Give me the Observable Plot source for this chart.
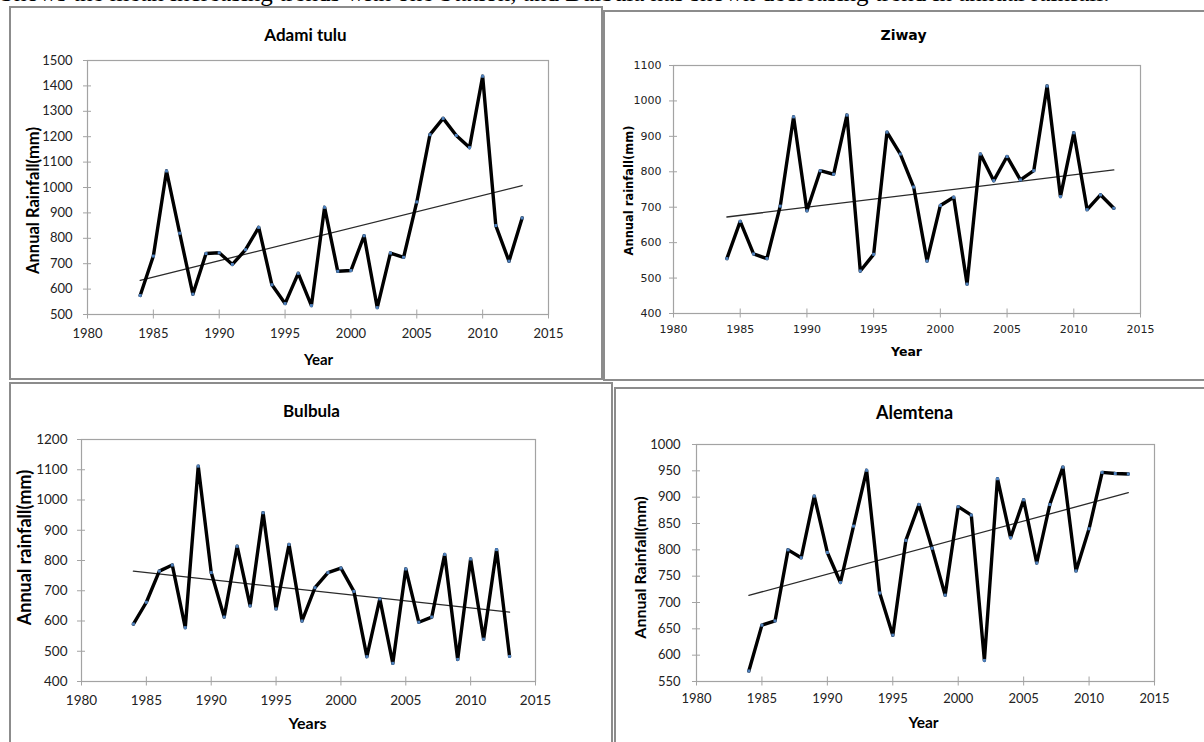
<!DOCTYPE html>
<html>
<head>
<meta charset="utf-8">
<script src="https://cdn.jsdelivr.net/npm/d3@7"></script>
<script src="https://cdn.jsdelivr.net/npm/@observablehq/plot@0.6"></script>
<style>
  html, body { margin: 0; padding: 0; background: #fff; }
  #page { position: relative; width: 1204px; height: 742px; overflow: hidden; background: #fff; }
  .chart { position: absolute; }
  .frame { position: absolute; box-sizing: border-box; border: 2px solid #8c8c8c; pointer-events: none; }
  #lead { position: absolute; left: 0; top: 0; width: 1204px; height: 8px; overflow: hidden; }
  #lead span { position: absolute; left: 0; top: -20px; font: 25px "Liberation Serif", serif; line-height: 25px; white-space: nowrap; color: #000; }
</style>
</head>
<body>
<div id="page">
  <div id="lead"><span>Shows the mean increasing trends with one Station, and Bulbula has shown decreasing trend in annual rainfall.</span></div>
</div>
<script>
// ---- data ----
const years = [1984, 1985, 1986, 1987, 1988, 1989, 1990, 1991, 1992, 1993,
               1994, 1995, 1996, 1997, 1998, 1999, 2000, 2001, 2002, 2003,
               2004, 2005, 2006, 2007, 2008, 2009, 2010, 2011, 2012, 2013];

const adamiTulu = [575, 730, 1065, 820, 580, 740, 743, 697, 755, 843,
                   617, 543, 662, 535, 922, 670, 673, 810, 527, 742,
                   725, 943, 1208, 1272, 1205, 1157, 1438, 850, 710, 880];

const ziway = [555, 660, 568, 555, 703, 955, 690, 803, 793, 960,
               520, 567, 912, 850, 757, 548, 705, 728, 483, 850,
               775, 843, 777, 803, 1042, 730, 910, 693, 735, 697];

const bulbula = [590, 662, 765, 785, 578, 1112, 760, 613, 847, 650,
                 958, 640, 853, 600, 710, 760, 775, 698, 482, 673,
                 460, 772, 596, 613, 820, 473, 805, 540, 836, 483];

const alemtena = [570, 657, 665, 800, 785, 902, 795, 738, 845, 951,
                  718, 638, 818, 886, 803, 714, 882, 866, 590, 935,
                  823, 895, 775, 886, 957, 760, 840, 947, 945, 944];

const xTicks = [1980, 1985, 1990, 1995, 2000, 2005, 2010, 2015];
const adamiTicks = [500, 600, 700, 800, 900, 1000, 1100, 1200, 1300, 1400, 1500];
const ziwayTicks = [400, 500, 600, 700, 800, 900, 1000, 1100];
const bulbulaTicks = [400, 500, 600, 700, 800, 900, 1000, 1100, 1200];
const alemtenaTicks = [550, 600, 650, 700, 750, 800, 850, 900, 950, 1000];

const titles = ["Adami tulu", "Ziway", "Bulbula", "Alemtena"];
const yLabels = ["Annual Rainfall(mm)", "Annual rainfall(mm)", "Annual rainfall(mm)", "Annual Rainfall(mm)"];
const xLabels = ["Year", "Year", "Years", "Year"];

// ---- layout (page pixel coordinates) ----
const panels = [
  { values: adamiTulu, yTicks: adamiTicks,
    box: [9, 6, 594, 374], plot: [87, 60, 548, 314],
    titlePos: [305, 35], xLabelPos: [318, 360], yLabelPos: [33, 200],
    font: "Lato", tickFont: 13, titleFont: 17, labelFont: 15, yLabelFont: 16.5,
    yPad: 11, xPad: 10 },
  { values: ziway, yTicks: ziwayTicks,
    box: [603, 10, 601, 371], plot: [673, 65, 1140, 313],
    titlePos: [903, 35], xLabelPos: [906, 351], yLabelPos: [629, 190],
    font: "DejaVu Sans", tickFont: 11, titleFont: 14, labelFont: 12.5, yLabelFont: 11.5,
    yPad: 8, xPad: 7 },
  { values: bulbula, yTicks: bulbulaTicks,
    box: [9, 382, 604, 360], plot: [81, 439, 535, 681],
    titlePos: [311, 411], xLabelPos: [307, 723], yLabelPos: [25, 547],
    font: "Lato", tickFont: 13.5, titleFont: 17, labelFont: 16, yLabelFont: 18,
    yPad: 10, xPad: 9 },
  { values: alemtena, yTicks: alemtenaTicks,
    box: [614, 387, 590, 355], plot: [696, 444, 1154, 681],
    titlePos: [914, 413], xLabelPos: [923, 723], yLabelPos: [640, 567],
    font: "Lato", tickFont: 13, titleFont: 18, labelFont: 15.5, yLabelFont: 16,
    yPad: 12, xPad: 8 }
];

const page = document.getElementById("page");

panels.forEach((p, i) => {
  const [bx, by, bw, bh] = p.box;
  const [px0, py0, px1, py1] = p.plot;
  const data = years.map((year, k) => ({ year, value: p.values[k] }));
  const yDomain = [p.yTicks[0], p.yTicks[p.yTicks.length - 1]];
  const at = ([x, y]) => ({ dx: x - px0, dy: y - py0 });

  const chart = Plot.plot({
    width: bw,
    height: bh,
    marginLeft: px0 - bx,
    marginRight: bx + bw - px1,
    marginTop: py0 - by,
    marginBottom: by + bh - py1,
    style: { fontFamily: p.font, fontSize: p.tickFont + "px", color: "#222", background: "transparent" },
    x: { domain: [xTicks[0], xTicks[xTicks.length - 1]] },
    y: { domain: yDomain },
    marks: [
      Plot.frame({ stroke: "#a3a3a3", strokeWidth: 1.2 }),
      Plot.axisY(p.yTicks, { tickSize: 8, dx: 4, tickPadding: p.yPad, stroke: "#a3a3a3", fill: "#222", label: null, tickFormat: d => String(d) }),
      Plot.axisX(xTicks, { tickSize: 9, dy: -4.5, tickPadding: p.xPad, stroke: "#a3a3a3", fill: "#222", label: null, tickFormat: d => String(d) }),
      Plot.linearRegressionY(data, { x: "year", y: "value", ci: 0, stroke: "#2a2a2a", strokeWidth: 1.3 }),
      Plot.line(data, { x: "year", y: "value", stroke: "#000", strokeWidth: 3.4, strokeLinejoin: "round", strokeLinecap: "round" }),
      Plot.dot(data, { x: "year", y: "value", symbol: "square", r: 1.7, fill: "#4f81bd", stroke: "none" }),
      Plot.text([titles[i]], { frameAnchor: "top-left", ...at(p.titlePos), text: d => d, fontWeight: "bold", fontSize: p.titleFont, fill: "#000", textAnchor: "middle", lineAnchor: "middle" }),
      Plot.text([xLabels[i]], { frameAnchor: "top-left", ...at(p.xLabelPos), text: d => d, fontWeight: "bold", fontSize: p.labelFont, fill: "#000", textAnchor: "middle", lineAnchor: "middle" }),
      Plot.text([yLabels[i]], { frameAnchor: "top-left", ...at(p.yLabelPos), text: d => d, fontWeight: "bold", fontSize: p.yLabelFont, fill: "#000", textAnchor: "middle", lineAnchor: "middle", rotate: -90 })
    ]
  });
  chart.classList.add("chart");
  chart.style.left = bx + "px";
  chart.style.top = by + "px";
  page.appendChild(chart);

  const frame = document.createElement("div");
  frame.className = "frame";
  frame.style.left = bx + "px";
  frame.style.top = by + "px";
  frame.style.width = (i % 2 === 1 ? bw + 20 : bw) + "px";
  frame.style.height = (i >= 2 ? bh + 20 : bh) + "px";
  page.appendChild(frame);
});
</script>
</body>
</html>
